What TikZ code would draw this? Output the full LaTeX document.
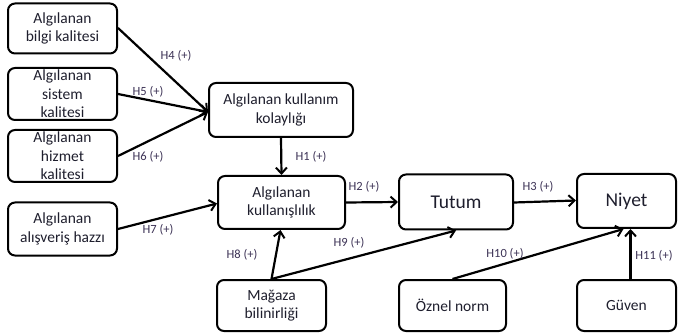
\documentclass[tikz,border=0pt]{standalone}
\usepackage{fontspec}
\setmainfont{Carlito}
\usetikzlibrary{arrows.meta}
\definecolor{boxtext}{RGB}{30,30,45}
\definecolor{labtext}{RGB}{60,50,85}
\tikzset{
  box/.style={draw=black, line width=2pt, rounded corners=7pt, align=center,
    inner sep=0pt, text=boxtext, font=\fontsize{15.5}{18.5}\selectfont},
  bigbox/.style={box, font=\fontsize{19.5}{22}\selectfont},
  conn/.style={line width=2.2pt, -{Straight Barb[length=6pt,width=11pt,line width=2pt]}},
  hlab/.style={text=labtext, font=\fontsize{12.5}{14}\selectfont, inner sep=0pt}
}
\begin{document}
\begin{tikzpicture}[x=1pt,y=-1pt]
\useasboundingbox (0,0) rectangle (678,334);
% left column
\node[box, minimum width=109pt, minimum height=50pt] (b1) at (62.5,28.5) {Algılanan\\bilgi kalitesi};
\node[box, minimum width=109pt, minimum height=52pt] (b2) at (62.5,94) {Algılanan\\sistem\\kalitesi};
\node[box, minimum width=109pt, minimum height=52pt] (b3) at (62.5,156) {Algılanan\\hizmet\\kalitesi};
\node[box, minimum width=109pt, minimum height=53pt] (b4) at (62.5,229) {Algılanan\\alışveriş hazzı};
% middle
\node[box, minimum width=144pt, minimum height=54pt] (ky) at (281,110) {Algılanan kullanım\\kolaylığı};
\node[box, minimum width=127pt, minimum height=53pt] (ku) at (281.5,202.5) {Algılanan\\kullanışlılık};
\node[bigbox, minimum width=114pt, minimum height=55pt] (tu) at (456,202) {Tutum};
\node[bigbox, minimum width=99pt, minimum height=54pt] (ni) at (626.5,201) {Niyet};
% bottom
\node[box, minimum width=109pt, minimum height=51pt] (mg) at (271.5,305.5) {Mağaza\\bilinirliği};
\node[box, minimum width=107pt, minimum height=51pt] (oz) at (452.5,305.5) {Öznel norm};
\node[box, minimum width=99pt, minimum height=51pt] (gu) at (626.5,305.5) {Güven};
% connectors
\draw[conn] (b1.east |- 0,28) -- ([yshift=-2pt]ky.west);
\draw[conn] (b2.east) -- ([yshift=-2pt]ky.west);
\draw[conn] (b3.east) -- ([yshift=-2pt]ky.west);
\draw[conn] (b4.east) -- ([yshift=-1pt]ku.west);
\draw[conn] (ky.south) -- (ku.north);
\draw[conn] (ku.east) -- (tu.west);
\draw[conn] ([yshift=-0.5pt]tu.east) -- ([yshift=0.5pt]ni.west);
\draw[conn] (mg.north) -- ([xshift=-1pt]ku.south);
\draw[conn] (mg.north) -- (tu.south);
\draw[conn] (oz.north) -- ([xshift=-3pt]ni.south);
\draw[conn] ([xshift=4pt]gu.north) -- ([xshift=4pt]ni.south);
% labels
\node[hlab] (h4) at (176,56) {H4 (+)};
\node[hlab] (h5) at (148,92) {H5 (+)};
\node[hlab] (h6) at (148,157) {H6 (+)};
\node[hlab] (h7) at (158,230) {H7 (+)};
\node[hlab] (h1) at (311,157) {H1 (+)};
\node[hlab] (h2) at (364,187) {H2 (+)};
\node[hlab] (h3) at (538,187) {H3 (+)};
\node[hlab] (h8) at (242,255) {H8 (+)};
\node[hlab] (h9) at (349,243) {H9 (+)};
\node[hlab] (h10) at (505,254) {H10 (+)};
\node[hlab] (h11) at (654,256) {H11 (+)};
\end{tikzpicture}
\end{document}
